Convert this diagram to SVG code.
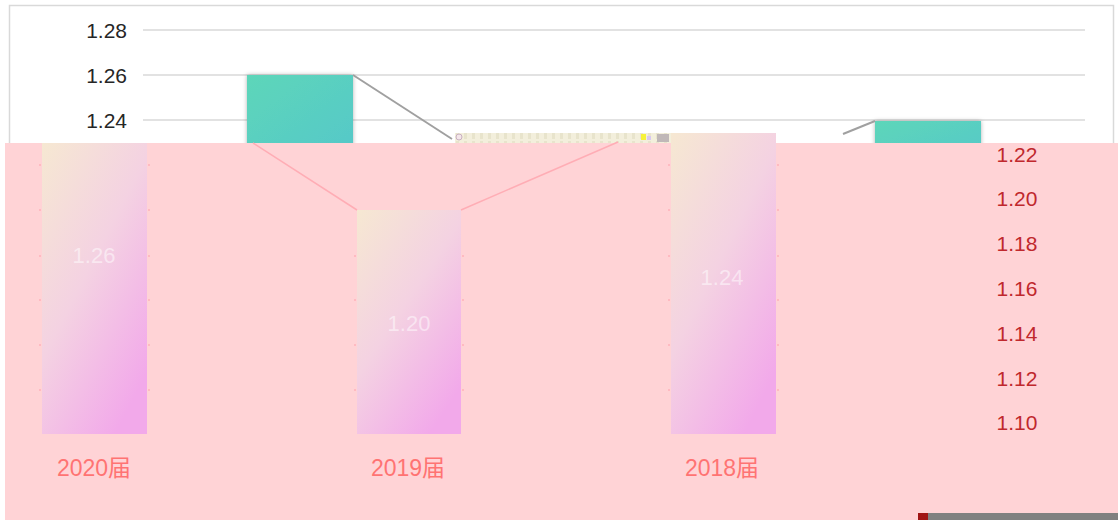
<svg xmlns="http://www.w3.org/2000/svg" width="1118" height="520" viewBox="0 0 1118 520">
<style>
.ax{font-family:"Liberation Sans","Noto Sans CJK SC",sans-serif;font-size:21px;fill:#262626;text-anchor:end}
.rax{font-family:"Liberation Sans","Noto Sans CJK SC",sans-serif;font-size:21px;fill:#c0282d;text-anchor:middle}
.cat{font-family:"Liberation Sans","Noto Sans CJK SC",sans-serif;font-size:23px;fill:#ff7373;text-anchor:middle}
.val{font-family:"Liberation Sans","Noto Sans CJK SC",sans-serif;font-size:22px;fill:#ffffff;fill-opacity:0.5;text-anchor:middle}
.grid{stroke:#d9d9d9;stroke-width:1.5}
.tick{stroke:#ffb3ba;stroke-width:1.5}
</style>
<defs>
<linearGradient id="teal" x1="0" y1="0" x2="1" y2="1">
<stop offset="0" stop-color="#5dd6b9"/>
<stop offset="1" stop-color="#56c8c9"/>
</linearGradient>
<linearGradient id="pinkbar" x1="0" y1="0" x2="0.7" y2="1">
<stop offset="0" stop-color="#f6e8d2"/>
<stop offset="0.5" stop-color="#f4d2e2"/>
<stop offset="1" stop-color="#f2a9ea"/>
</linearGradient>
<filter id="sh" x="-20%" y="-20%" width="140%" height="140%">
<feDropShadow dx="0" dy="0" stdDeviation="2" flood-color="#000" flood-opacity="0.3"/>
</filter>
<pattern id="glitch" width="8" height="10" patternUnits="userSpaceOnUse">
<rect width="8" height="10" fill="#f3efdc"/>
<rect x="0" y="1" width="3" height="8" fill="#e8e4cc"/>
</pattern>
</defs>
<rect width="1118" height="520" fill="#ffffff"/>
<rect x="9.5" y="5.5" width="1104" height="520" fill="#ffffff" stroke="#d9d9d9" stroke-width="1.5"/>
<g id="grid">
<line class="grid" x1="143" y1="30" x2="1085" y2="30"/>
<line class="grid" x1="143" y1="75" x2="1085" y2="75"/>
<line class="grid" x1="143" y1="120" x2="1085" y2="120"/>
</g>
<g id="left-axis">
<text class="ax" x="127" y="37.5">1.28</text>
<text class="ax" x="127" y="82.5">1.26</text>
<text class="ax" x="127" y="127.5">1.24</text>
</g>
<g id="bar-2020-back"><rect x="247" y="75" width="106" height="80" fill="url(#teal)" filter="url(#sh)"/></g>
<g id="bar-2017-back"><rect x="875" y="121" width="106" height="40" fill="url(#teal)" filter="url(#sh)"/></g>
<g id="connectors-back">
<polyline points="353,75 452,139" fill="none" stroke="#a0a0a0" stroke-width="2"/>
<polyline points="843,134 875,121" fill="none" stroke="#a0a0a0" stroke-width="2"/>
</g>
<g id="glitch-strip">
<rect x="455" y="133" width="250" height="10" fill="url(#glitch)"/>
<circle cx="459" cy="137" r="3" fill="#f4e6ea" stroke="#c8b0c0"/>
<rect x="641" y="134" width="5" height="6" fill="#f7f23a"/>
<rect x="647" y="136" width="4" height="4" fill="#d8c8f0"/>
<rect x="657" y="134" width="12" height="8" fill="#c0b8b8"/>
<rect x="672" y="135" width="6" height="6" fill="#c8a8b8"/>
<polygon points="683,142 688,134 692,142" fill="#3ed39a"/>
<rect x="688" y="134" width="4" height="4" fill="#f0508a"/>
<rect x="696" y="135" width="2" height="6" fill="#555"/>
</g>
<rect id="overlay" x="5" y="143" width="1113" height="377" fill="#ffd3d6"/>
<g id="ticks">
<path class="tick" d="M39,165h2M148,165h2M39,210h2M148,210h2M39,256h2M148,256h2M39,300h2M148,300h2M39,345h2M148,345h2M39,390h2M148,390h2M354,256h2M462,256h2M354,300h2M462,300h2M354,345h2M462,345h2M354,390h2M462,390h2M668,165h2M777,165h2M668,210h2M777,210h2M668,256h2M777,256h2M668,300h2M777,300h2M668,345h2M777,345h2M668,390h2M777,390h2"/>
</g>
<g id="connectors">
<line x1="253" y1="143" x2="357" y2="210" stroke="#ffadb5" stroke-width="1.5"/>
<line x1="461" y1="210" x2="618" y2="142" stroke="#ffadb5" stroke-width="1.5"/>
</g>
<g id="bar-2020">
<rect x="42" y="143" width="105" height="291" fill="url(#pinkbar)"/>
<text class="val" x="94" y="263">1.26</text>
<text class="cat" x="94" y="476">2020届</text>
</g>
<g id="bar-2019">
<rect x="357" y="210" width="104" height="224" fill="url(#pinkbar)"/>
<text class="val" x="409" y="331">1.20</text>
<text class="cat" x="408" y="476">2019届</text>
</g>
<g id="bar-2018">
<rect x="671" y="133" width="105" height="301" fill="url(#pinkbar)"/>
<text class="val" x="722" y="285">1.24</text>
<text class="cat" x="722" y="476">2018届</text>
</g>
<g id="right-axis">
<text class="rax" x="1017" y="162">1.22</text>
<text class="rax" x="1017" y="206">1.20</text>
<text class="rax" x="1017" y="251">1.18</text>
<text class="rax" x="1017" y="296">1.16</text>
<text class="rax" x="1017" y="341">1.14</text>
<text class="rax" x="1017" y="386">1.12</text>
<text class="rax" x="1017" y="430">1.10</text>
</g>
<g id="scrollbar">
<rect x="918" y="513" width="200" height="7" fill="#808080"/>
<rect x="918" y="513" width="10" height="7" fill="#a01414"/>
</g>
</svg>
